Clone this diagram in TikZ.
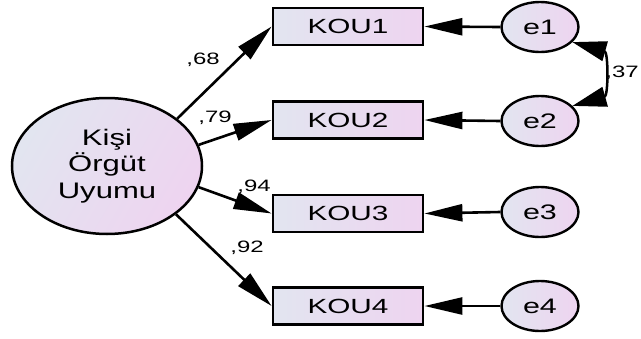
\documentclass[tikz,border=0pt]{standalone}
\usepackage{fontspec}
\setmainfont{Liberation Sans}
\newfontfamily\widesans[FakeStretch=1.45]{Liberation Sans}
\newfontfamily\latentsans[FakeStretch=1.38]{Liberation Sans}
\usetikzlibrary{shapes.geometric,arrows.meta}
\definecolor{fillL}{RGB}{226,229,240}
\definecolor{fillR}{RGB}{238,212,240}
\tikzset{
  every node/.style={inner sep=0pt},
  obsbox/.style={draw=black, line width=2.8pt, rectangle, left color=fillL, right color=fillR,
    minimum width=150pt, minimum height=37pt, font=\widesans\fontsize{20.5}{24}\selectfont},
  errnode/.style={draw=black, line width=2.4pt, ellipse, left color=fillL, right color=fillR,
    minimum width=77pt, minimum height=50pt, font=\widesans\fontsize{21}{24}\selectfont},
  latent/.style={draw=black, line width=2.5pt, ellipse, shading=axis, left color=fillL, right color=fillR,
    shading angle=60, minimum width=190pt, minimum height=136pt, align=center,
    font=\latentsans\fontsize{22.5}{26.5}\selectfont},
  path/.style={draw=black, line width=2.6pt, -{Triangle[length=38pt,width=17pt]}},
  covpath/.style={draw=black, line width=2.5pt,
    {Triangle[length=34pt,width=20pt]}-{Triangle[length=34pt,width=20pt]}},
  coef/.style={font=\widesans\fontsize{16.5}{19}\selectfont}
}
\begin{document}
\begin{tikzpicture}[x=1pt,y=-1pt]
\useasboundingbox (0,0) rectangle (641,338);

% latent factor
\node[latent] (F) at (107,166) {Kişi\\Örgüt\\Uyumu};

% indicators
\node[obsbox] (K1) at (348,26.5) {KOU1};
\node[obsbox] (K2) at (348,120) {KOU2};
\node[obsbox] (K3) at (348,213.5) {KOU3};
\node[obsbox] (K4) at (348,306) {KOU4};

% error terms
\node[errnode] (E1) at (540,27) {e1};
\node[errnode] (E2) at (540,121) {e2};
\node[errnode] (E3) at (540,212) {e3};
\node[errnode] (E4) at (540,306) {e4};

% factor loadings
\draw[path] (F.34) -- (K1.west);
\draw[path] (F.13) -- (K2.west);
\draw[path] (F.-13) -- (K3.west);
\draw[path] (F.-35) -- (K4.west);

% error paths
\draw[path] (E1.west) -- (K1.east);
\draw[path] (E2.west) -- (K2.east);
\draw[path] (E3.west) -- (K3.east);
\draw[path] (E4.west) -- (K4.east);

% error covariance
\draw[covpath] (E1.-25) .. controls +(36,10) and +(36,-10) .. (E2.25);

% coefficients
\node[coef] (c1) at (203,60) {,68};
\node[coef] (c2) at (215,118) {,79};
\node[coef] (c3) at (254,187) {,94};
\node[coef] (c4) at (247,248) {,92};
\node[coef] (c5) at (622,73) {,37};
\end{tikzpicture}
\end{document}
